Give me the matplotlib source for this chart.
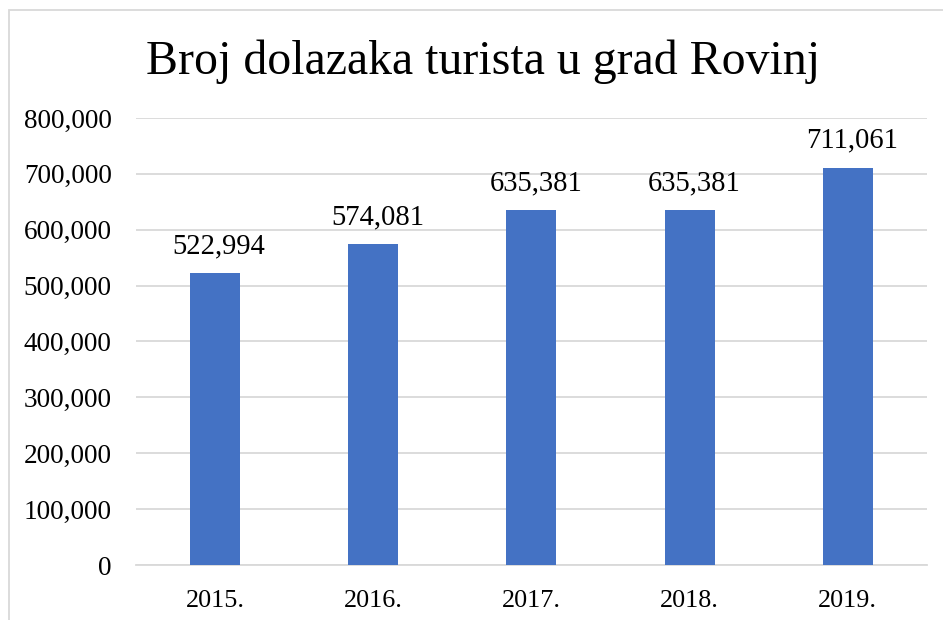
import matplotlib.pyplot as plt
from matplotlib.ticker import FuncFormatter
from matplotlib.patches import Rectangle

godine = ["2015.", "2016.", "2017.", "2018.", "2019."]
dolasci = [522994, 574081, 635381, 635381, 711061]
y_ticks = [0, 100000, 200000, 300000, 400000, 500000, 600000, 700000, 800000]

plt.rcParams['font.family'] = ['Liberation Serif', 'DejaVu Serif']

fig = plt.figure(figsize=(9.43, 6.2), dpi=100)
ax = fig.add_axes([0.1442, 0.0887, 0.8388, 0.721])

x = range(len(godine))
bars = ax.bar(x, dolasci, width=0.316, color="#4472C4", zorder=3)

for b, v in zip(bars, dolasci):
    ax.annotate(f"{v:,}", (b.get_x() + b.get_width() / 2, v),
                xytext=(3, 10), textcoords="offset points",
                ha="center", va="bottom", fontsize=20.6)

ax.set_xlim(-0.5, len(godine) - 0.5)
ax.set_ylim(0, 800000)
ax.set_yticks(y_ticks)
ax.yaxis.set_major_formatter(FuncFormatter(lambda v, p: f"{int(v):,}"))
ax.set_xticks(list(x))
ax.set_xticklabels(godine)
ax.tick_params(axis="y", length=0, labelsize=19.6, pad=17.5)
ax.tick_params(axis="x", length=0, labelsize=18.8, pad=18)
ax.grid(axis="y", color="#d9d9d9", linewidth=1.3, zorder=0)
for s in ["top", "right", "left"]:
    ax.spines[s].set_visible(False)
ax.spines["bottom"].set_color("#d9d9d9")
ax.spines["bottom"].set_linewidth(1.3)

fig.text(0.512, 0.9, "Broj dolazaka turista u grad Rovinj",
         ha="center", va="center", fontsize=34.5)

# okvir grafikona
fig.patches.append(Rectangle((9 / 943, -0.05), 1.1, 1.05 - 10 / 620,
                             transform=fig.transFigure, fill=False,
                             edgecolor="#d9d9d9", linewidth=1.3))

fig.savefig("out.png", dpi=100)
